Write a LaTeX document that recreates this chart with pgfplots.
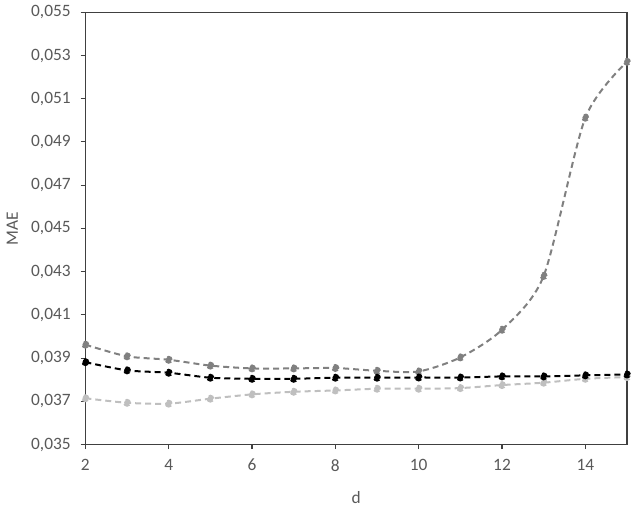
\documentclass[border=0pt]{standalone}
\usepackage{pgfplots}
\pgfplotsset{compat=1.18}
\usepackage{fontspec}
\setmainfont{Carlito}
\definecolor{axgray}{HTML}{404040}
\definecolor{txtgray}{HTML}{595959}
\definecolor{midgray}{HTML}{808080}
\definecolor{lightgray}{HTML}{BFBFBF}
\begin{document}
\begin{tikzpicture}
\begin{axis}[
  scale only axis,
  width=406pt, height=324pt,
  xmin=2, xmax=15, ymin=0.035, ymax=0.055,
  xtick={2,4,...,14},
  ytick={0.035,0.037,0.039,0.041,0.043,0.045,0.047,0.049,0.051,0.053,0.055},
  scaled y ticks=false,
  xtick pos=lower, ytick pos=left,
  tick align=outside,
  major tick length=3.5pt,
  clip=false,
  axis line style={axgray, line width=0.8pt},
  every tick/.style={axgray, line width=0.8pt},
  font=\fontsize{13}{15}\selectfont,
  tick label style={txtgray},
  label style={txtgray},
  /pgf/number format/assume math mode=true,
  yticklabel style={/pgf/number format/use comma, /pgf/number format/fixed, /pgf/number format/fixed zerofill, /pgf/number format/precision=3, xshift=-4pt},
  xticklabel style={yshift=-4pt},
  xlabel={d}, ylabel={MAE},
  xlabel style={at={(axis description cs:0.5,-0.123)}, anchor=center},
  ylabel style={at={(axis description cs:-0.135,0.5)}, anchor=center},
  every axis plot/.append style={line width=1.5pt, dash pattern=on 4.5pt off 3pt, smooth, tension=0.45, mark=*, mark size=2.2pt, mark options={solid}},
]
\addplot[midgray, mark options={fill=midgray, draw=midgray}] coordinates {
(2,0.03962) (3,0.03908) (4,0.03892) (5,0.03865) (6,0.03852) (7,0.03852) (8,0.03854) (9,0.03841) (10,0.03838) (11,0.03903) (12,0.04031) (13,0.04280) (14,0.05012) (15,0.05271)};
\addplot[lightgray, mark options={fill=lightgray, draw=lightgray}] coordinates {
(2,0.03714) (3,0.03693) (4,0.03689) (5,0.03712) (6,0.03732) (7,0.03744) (8,0.03750) (9,0.03758) (10,0.03758) (11,0.03761) (12,0.03775) (13,0.03786) (14,0.03804) (15,0.03812)};
\addplot[black, mark options={fill=black, draw=black}] coordinates {
(2,0.03881) (3,0.03843) (4,0.03832) (5,0.03809) (6,0.03804) (7,0.03804) (8,0.03809) (9,0.03809) (10,0.03810) (11,0.03810) (12,0.03815) (13,0.03815) (14,0.03820) (15,0.03824)};
\end{axis}
\pgfresetboundingbox
\path[use as bounding box] ([xshift=-64pt, yshift=-51pt]current axis.south west) rectangle ([xshift=6.75pt, yshift=9.2pt]current axis.north east);
\end{tikzpicture}
\end{document}
